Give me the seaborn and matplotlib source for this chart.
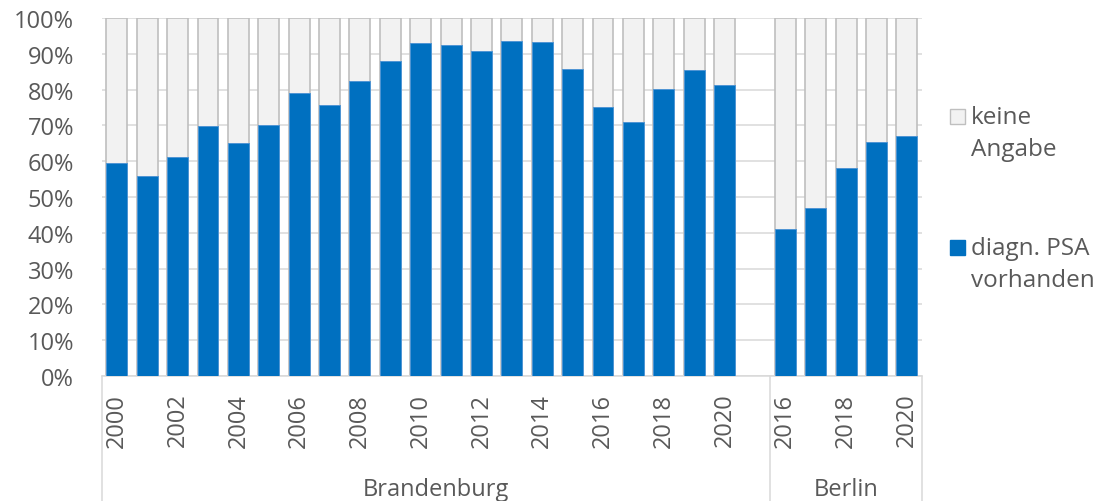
import matplotlib
matplotlib.use("Agg")
import matplotlib.pyplot as plt
import matplotlib.patches as mpatches
import pandas as pd
import seaborn as sns

# Share of cases with a diagnostic PSA value (percent), by state and year
years_bb = [2000, 2001, 2002, 2003, 2004, 2005, 2006, 2007, 2008, 2009, 2010,
            2011, 2012, 2013, 2014, 2015, 2016, 2017, 2018, 2019, 2020]
psa_bb = [59.4, 56.0, 61.1, 69.8, 65.0, 70.2, 79.0, 75.6, 82.4, 88.1, 93.0,
          92.4, 90.8, 93.7, 93.3, 85.7, 75.1, 71.1, 80.1, 85.5, 81.2]
years_be = [2016, 2017, 2018, 2019, 2020]
psa_be = [41.1, 46.9, 58.1, 65.5, 67.0]
groups = ["Brandenburg", "Berlin"]
series_labels = ["keine\nAngabe", "diagn. PSA\nvorhanden"]
y_ticks = [0, 10, 20, 30, 40, 50, 60, 70, 80, 90, 100]

BLUE = "#0070C0"
GREY = "#F2F2F2"
GREY_EDGE = "#BFBFBF"
TEXT = "#595959"
GRID = "#D9D9D9"

sns.set_style("white")
plt.rcParams["font.family"] = ["Open Sans", "DejaVu Sans"]

rows = []
for y, v in zip(years_bb, psa_bb):
    rows.append({"key": f"{groups[0]} {y}", "group": groups[0], "year": y,
                 "psa": v, "keine": 100 - v})
for y, v in zip(years_be, psa_be):
    rows.append({"key": f"{groups[1]} {y}", "group": groups[1], "year": y,
                 "psa": v, "keine": 100 - v})
df = pd.DataFrame(rows)
df["total"] = df["psa"] + df["keine"]

# one empty slot separates the two states
order = [f"{groups[0]} {y}" for y in years_bb] + ["gap"] + [f"{groups[1]} {y}" for y in years_be]

fig = plt.figure(figsize=(10.99, 5.02), dpi=100)
ax = fig.add_axes([0.0925, 0.249, 0.7465, 0.713])

sns.barplot(data=df, x="key", y="total", order=order, color=GREY, saturation=1,
            width=0.69, edgecolor=GREY_EDGE, linewidth=1.2, errorbar=None, ax=ax, zorder=2)
sns.barplot(data=df, x="key", y="psa", order=order, color=BLUE, saturation=1,
            width=0.69, edgecolor="#4F95D4", linewidth=0.7, errorbar=None, ax=ax, zorder=3)

ax.set_xlim(-0.5, len(order) - 0.5)
ax.set_ylim(0, 100)
ax.set_yticks(y_ticks)
ax.set_yticklabels([f"{t}%" for t in y_ticks])
ax.yaxis.grid(True, color=GRID, linewidth=1.1, zorder=0)
ax.set_axisbelow(True)
ax.tick_params(axis="y", length=0, pad=20, labelsize=17, labelcolor=TEXT)

# every other year is labelled
tick_pos, tick_lab = [], []
for i, k in enumerate(order):
    if k == "gap":
        continue
    yr = int(k.split()[-1])
    if yr % 2 == 0:
        tick_pos.append(i)
        tick_lab.append(str(yr))
ax.set_xticks(tick_pos)
ax.set_xticklabels(tick_lab, rotation=90)
ax.tick_params(axis="x", length=0, pad=12, labelsize=17, labelcolor=TEXT)
ax.set_xlabel("")
ax.set_ylabel("")

for side in ["left", "right", "top"]:
    ax.spines[side].set_visible(False)
ax.spines["bottom"].set_color(GRID)
ax.spines["bottom"].set_linewidth(1.1)

# group separators and group names below the axis
n_bb = len(years_bb) + 1
bounds = [-0.5, n_bb - 0.5, len(order) - 0.5]
trans = ax.get_xaxis_transform()
for b in bounds:
    ax.plot([b, b], [0, -0.36], color=GRID, linewidth=1.1, transform=trans, clip_on=False)
ax.text((bounds[0] + bounds[1]) / 2, -0.316, groups[0], transform=trans,
        ha="center", va="center", fontsize=17, color=TEXT)
ax.text((bounds[1] + bounds[2]) / 2, -0.316, groups[1], transform=trans,
        ha="center", va="center", fontsize=17, color=TEXT)

# legend
W, H = 1099, 502
legend_items = [(series_labels[0], GREY, GREY_EDGE, 110), (series_labels[1], BLUE, BLUE, 241)]
for label, fc, ec, top in legend_items:
    sq = mpatches.Rectangle((950 / W, 1 - (top + 15) / H), 15 / W, 15 / H,
                            facecolor=fc, edgecolor=ec, linewidth=1.0,
                            transform=fig.transFigure)
    fig.add_artist(sq)
    fig.text(971 / W, 1 - (top - 4) / H, label, ha="left", va="top",
             fontsize=17.5, color=TEXT, linespacing=1.45)

fig.savefig("out.png", dpi=100)
